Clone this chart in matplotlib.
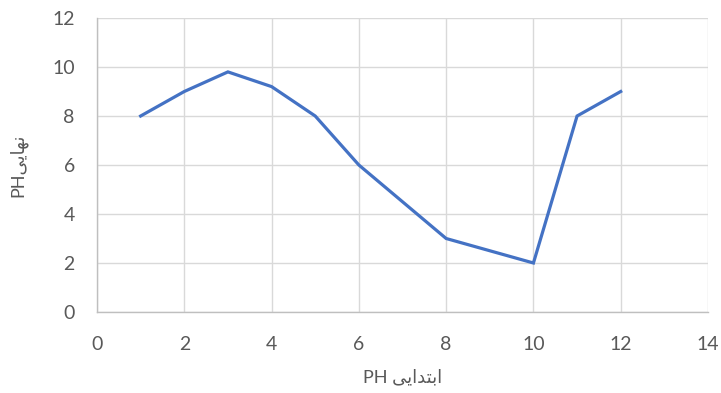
import matplotlib.pyplot as plt

# initial vs final pH
ph_start = [1, 2, 3, 4, 5, 6, 7, 8, 9, 10, 11, 12]
ph_end = [8, 9, 9.8, 9.2, 8, 6, 4.5, 3, 2.5, 2, 8, 9]

x_ticks = [0, 2, 4, 6, 8, 10, 12, 14]
y_ticks = [0, 2, 4, 6, 8, 10, 12]

# Arabic script written in presentation forms, visual order (no shaping in matplotlib)
x_label = 'PH ' + '\uFBFD\uFBFE\uFE8D\uFEAA\uFE98\uFE91\uFE8D'
y_label = 'PH' + '\uFBFD\uFBFE\uFE8E\uFEEC\uFEE7'

plt.rcParams['font.family'] = ['Lato', 'DejaVu Sans']

fig = plt.figure(figsize=(7.21, 3.93), dpi=100)
ax = fig.add_axes([97 / 721, 1 - 312 / 393, (708 - 97) / 721, (312 - 18) / 393])

ax.plot(ph_start, ph_end, color='#4472C4', linewidth=2.3, solid_joinstyle='miter')

ax.set_xlim(0, 14)
ax.set_ylim(0, 12)
ax.set_xticks(x_ticks)
ax.set_yticks(y_ticks)
ax.grid(True, color='#d9d9d9', linewidth=1.0)
ax.set_axisbelow(True)
for side in ['top', 'right']:
    ax.spines[side].set_visible(False)
for side in ['left', 'bottom']:
    ax.spines[side].set_color('#bfbfbf')
    ax.spines[side].set_linewidth(1.0)

ax.tick_params(length=0, labelsize=14, labelcolor='#595959')
ax.tick_params(axis='x', pad=17)
ax.tick_params(axis='y', pad=16)

ax.set_xlabel(x_label, fontsize=13, color='#595959', labelpad=12)
ax.set_ylabel(y_label, fontsize=13, color='#595959', labelpad=18)

fig.savefig('out.png', dpi=100)
